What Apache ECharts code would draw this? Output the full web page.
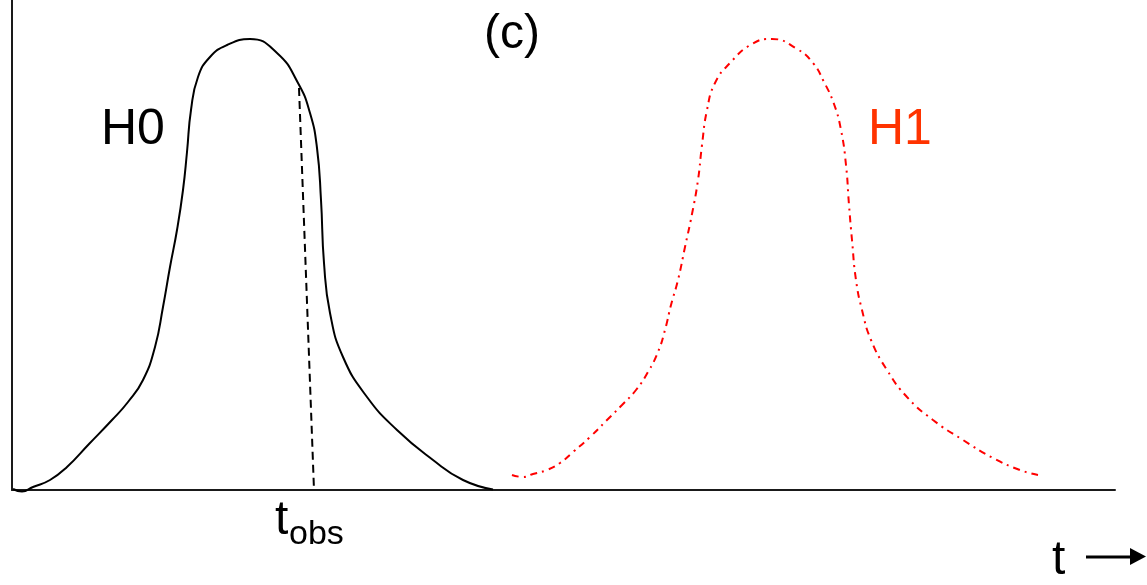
<!DOCTYPE html>
<html>
<head>
<meta charset="utf-8">
<script src="https://cdn.jsdelivr.net/npm/echarts@6/dist/echarts.min.js"></script>
<style>
html,body{margin:0;padding:0;background:#fff;}
#chart{width:1147px;height:585px;}
</style>
</head>
<body>
<div id="chart"></div>
<script>
// H0 distribution curve: [t, density]
const h0Curve = [
  [0.1,0.1],[1.0,-0.15],[2.1,0.3],[3.8,1.0],[5.5,2.3],[7.7,4.6],[10.0,7.0],[11.6,8.8],
  [13.1,11.0],[14.3,14.3],[15.1,18.3],[15.8,22.3],[16.5,26.0],[17.1,30.0],[17.5,33.8],
  [17.9,38.0],[18.6,41.3],[19.8,43.3],[21.5,44.5],[23.8,45.1],[26.5,43.7],[28.6,40.7],
  [29.8,37.7],[30.5,34.2],[30.9,29.0],[31.2,22.7],[31.8,17.7],[33.1,13.3],[35.5,9.3],
  [38.5,6.0],[42.1,3.0],[45.1,1.0],[48.1,0.05]
];
// H1 distribution curve: [t, density]
const h1Curve = [
  [50.0,1.5],[51.1,1.3],[52.1,1.6],[53.5,2.0],[54.8,2.7],[56.1,3.8],[57.8,5.3],[59.5,7.0],
  [61.0,8.5],[62.4,10.0],[63.6,11.8],[64.6,13.8],[65.3,16.0],[65.9,18.5],[66.6,21.0],
  [67.3,24.3],[68.0,27.6],[68.6,31.0],[69.0,34.5],[69.5,38.0],[70.3,40.7],[71.8,42.7],
  [74.0,44.6],[76.0,45.1],[78.5,44.1],[80.1,42.7],[81.2,40.8],[82.2,38.6],[82.9,36.0],
  [83.4,32.5],[83.7,28.5],[84.0,25.0],[84.4,21.0],[85.0,18.0],[85.9,15.0],[87.5,12.0],
  [89.5,9.3],[92.1,7.0],[95.1,5.0],[98.1,3.2],[100.8,2.0],[102.6,1.5]
];
// observed statistic marker line
const tObsLine = [[28.7,40.2],[30.2,0]];
const xRange = [0, 110.3];
const yRange = [0, 49];

const chart = echarts.init(document.getElementById('chart'), null, {renderer:'canvas'});
const FONT = '"Liberation Sans", Arial, sans-serif';
chart.setOption({
  animation:false,
  backgroundColor:'#fff',
  grid:{left:12, right:32, top:0, bottom:95},
  xAxis:{type:'value', min:xRange[0], max:xRange[1],
    axisLine:{show:true, onZero:false, lineStyle:{color:'#1a1a1a', width:2}},
    axisTick:{show:false}, axisLabel:{show:false}, splitLine:{show:false}},
  yAxis:{type:'value', min:yRange[0], max:yRange[1],
    axisLine:{show:true, lineStyle:{color:'#1a1a1a', width:2}},
    axisTick:{show:false}, axisLabel:{show:false}, splitLine:{show:false}},
  series:[
    {type:'line', data:h0Curve, smooth:0.5, symbol:'none', clip:false,
      lineStyle:{color:'#000', width:2}},
    {type:'line', data:h1Curve, smooth:0.5, symbol:'none', clip:false,
      lineStyle:{color:'#ff0000', width:2, type:[7,5,2,5]}},
    {type:'line', data:tObsLine, symbol:'none', clip:false,
      lineStyle:{color:'#000', width:2, type:[8,5]}}
  ],
  graphic:[
    {type:'text', x:512, y:35, style:{text:'(c)', font:'48px '+FONT, fill:'#000', textAlign:'center', textVerticalAlign:'middle'}},
    {type:'text', x:101, y:130, style:{text:'H0', font:'50px '+FONT, fill:'#000', textAlign:'left', textVerticalAlign:'middle'}},
    {type:'text', x:868, y:130, style:{text:'H1', font:'50px '+FONT, fill:'#ff3300', textAlign:'left', textVerticalAlign:'middle'}},
    {type:'text', x:275, y:521, style:{text:'t', font:'48px '+FONT, fill:'#000', textAlign:'left', textVerticalAlign:'middle'}},
    {type:'text', x:289, y:535, style:{text:'obs', font:'34px '+FONT, fill:'#000', textAlign:'left', textVerticalAlign:'middle'}},
    {type:'text', x:1052, y:561, style:{text:'t', font:'48px '+FONT, fill:'#000', textAlign:'left', textVerticalAlign:'middle'}},
    {type:'line', shape:{x1:1086, y1:557, x2:1133, y2:557}, style:{stroke:'#000', lineWidth:3}},
    {type:'polygon', shape:{points:[[1130,548],[1146,556.5],[1130,565]]}, style:{fill:'#000'}}
  ]
});
</script>
</body>
</html>
